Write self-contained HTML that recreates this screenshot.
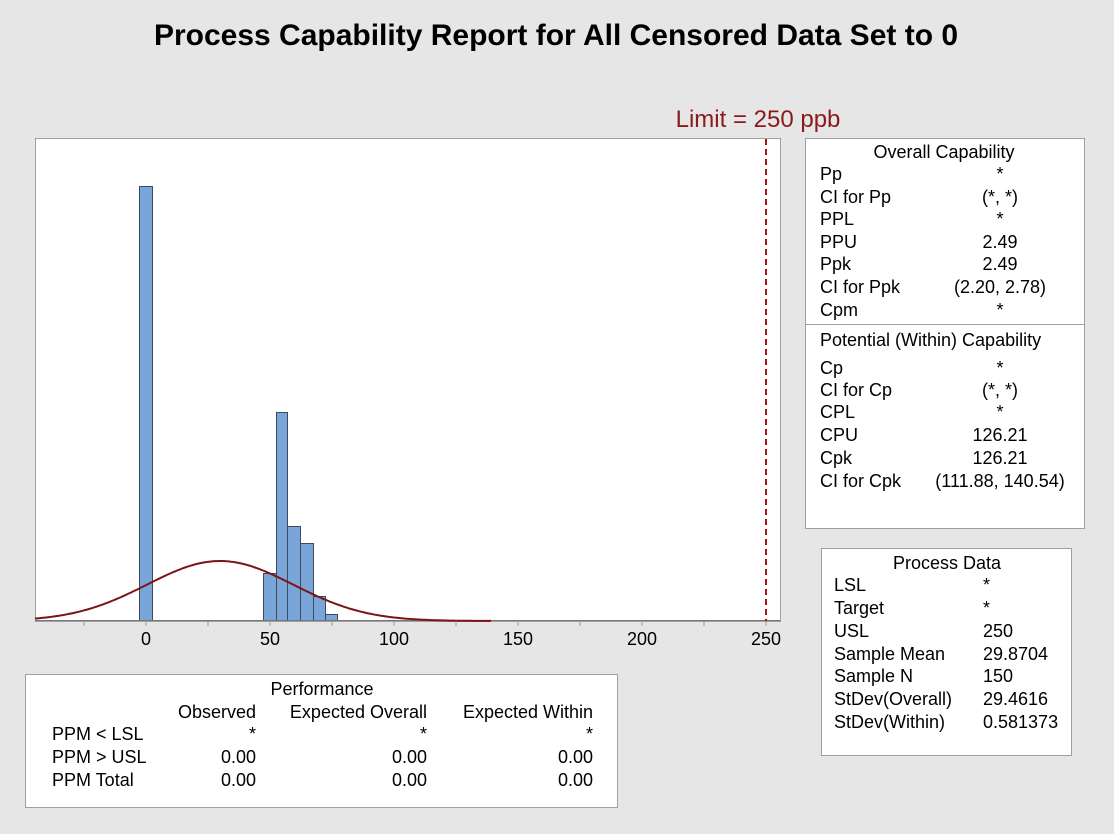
<!DOCTYPE html>
<html><head><meta charset="utf-8"><style>
html,body{margin:0;padding:0;background:#e6e6e6;}
svg{display:block;}
text{font-family:"Liberation Sans",sans-serif;font-size:18px;fill:#000;}
</style></head><body>
<svg width="1114" height="834" viewBox="0 0 1114 834" xmlns="http://www.w3.org/2000/svg">
<rect x="0" y="0" width="1114" height="834" fill="#e6e6e6"/>
<text x="556" y="45" text-anchor="middle" style="font-size:30px;font-weight:bold">Process Capability Report for All Censored Data Set to 0</text>
<text x="758" y="127" text-anchor="middle" style="font-size:24px;fill:#8b1a1a">Limit = 250 ppb</text>
<rect x="35.5" y="138.5" width="745" height="483" fill="#fff" stroke="#a0a0a0"/>
<g fill="#7aa5d8" stroke="#3d4a5c" stroke-width="1">
<rect x="139.5" y="186.5" width="13" height="434"/>
<rect x="263.5" y="573.5" width="13" height="47"/>
<rect x="276.5" y="412.5" width="11" height="208"/>
<rect x="287.5" y="526.5" width="13" height="94"/>
<rect x="300.5" y="543.5" width="13" height="77"/>
<rect x="313.5" y="596.5" width="12" height="24"/>
<rect x="325.5" y="614.5" width="12" height="6"/>
</g>
<line x1="35" y1="620.5" x2="780" y2="620.5" stroke="#777"/>
<path id="curve" d="" fill="none" stroke="#7b1515" stroke-width="2"/>
<line x1="766" y1="139" x2="766" y2="621" stroke="#a11" stroke-width="2" stroke-dasharray="6,4"/>
<g stroke="#999">
<line x1="84" y1="621" x2="84" y2="626"/><line x1="146" y1="621" x2="146" y2="626"/><line x1="208" y1="621" x2="208" y2="626"/><line x1="270" y1="621" x2="270" y2="626"/><line x1="332" y1="621" x2="332" y2="626"/><line x1="394" y1="621" x2="394" y2="626"/><line x1="456" y1="621" x2="456" y2="626"/><line x1="518" y1="621" x2="518" y2="626"/><line x1="580" y1="621" x2="580" y2="626"/><line x1="642" y1="621" x2="642" y2="626"/><line x1="704" y1="621" x2="704" y2="626"/><line x1="766" y1="621" x2="766" y2="626"/>
</g>
<g text-anchor="middle">
<text x="146" y="645">0</text><text x="270" y="645">50</text><text x="394" y="645">100</text><text x="518" y="645">150</text><text x="642" y="645">200</text><text x="766" y="645">250</text>
</g>
<rect x="805.5" y="138.5" width="279" height="390" fill="#fff" stroke="#a0a0a0"/>
<line x1="805" y1="324.5" x2="1084" y2="324.5" stroke="#a0a0a0"/>
<text x="944" y="158" text-anchor="middle">Overall Capability</text>
<g>
<text x="820" y="180">Pp</text><text x="820" y="203">CI for Pp</text><text x="820" y="225">PPL</text><text x="820" y="248">PPU</text><text x="820" y="270">Ppk</text><text x="820" y="293">CI for Ppk</text><text x="820" y="316">Cpm</text>
<text x="820" y="346">Potential (Within) Capability</text>
<text x="820" y="374">Cp</text><text x="820" y="396">CI for Cp</text><text x="820" y="418">CPL</text><text x="820" y="441">CPU</text><text x="820" y="464">Cpk</text><text x="820" y="487">CI for Cpk</text>
</g>
<g text-anchor="middle">
<text x="1000" y="180">*</text><text x="1000" y="203">(*, *)</text><text x="1000" y="225">*</text><text x="1000" y="248">2.49</text><text x="1000" y="270">2.49</text><text x="1000" y="293">(2.20, 2.78)</text><text x="1000" y="316">*</text>
<text x="1000" y="374">*</text><text x="1000" y="396">(*, *)</text><text x="1000" y="418">*</text><text x="1000" y="441">126.21</text><text x="1000" y="464">126.21</text><text x="1000" y="487">(111.88, 140.54)</text>
</g>
<rect x="821.5" y="548.5" width="250" height="207" fill="#fff" stroke="#a0a0a0"/>
<text x="947" y="569" text-anchor="middle">Process Data</text>
<text x="834" y="591">LSL</text><text x="834" y="614">Target</text><text x="834" y="637">USL</text><text x="834" y="660">Sample Mean</text><text x="834" y="682">Sample N</text><text x="834" y="705">StDev(Overall)</text><text x="834" y="728">StDev(Within)</text>
<text x="983" y="591">*</text><text x="983" y="614">*</text><text x="983" y="637">250</text><text x="983" y="660">29.8704</text><text x="983" y="682">150</text><text x="983" y="705">29.4616</text><text x="983" y="728">0.581373</text>
<rect x="25.5" y="674.5" width="592" height="133" fill="#fff" stroke="#a0a0a0"/>
<text x="322" y="695" text-anchor="middle">Performance</text>
<text x="256" y="718" text-anchor="end">Observed</text><text x="427" y="718" text-anchor="end">Expected Overall</text><text x="593" y="718" text-anchor="end">Expected Within</text>
<text x="52" y="740">PPM &lt; LSL</text><text x="52" y="763">PPM &gt; USL</text><text x="52" y="786">PPM Total</text>
<text x="256" y="740" text-anchor="end">*</text><text x="427" y="740" text-anchor="end">*</text><text x="593" y="740" text-anchor="end">*</text>
<text x="256" y="763" text-anchor="end">0.00</text><text x="427" y="763" text-anchor="end">0.00</text><text x="593" y="763" text-anchor="end">0.00</text>
<text x="256" y="786" text-anchor="end">0.00</text><text x="427" y="786" text-anchor="end">0.00</text><text x="593" y="786" text-anchor="end">0.00</text>
</svg>
<script>
(function(){var m=29.87,s=29.46,d="";
for(var px=35;px<=491;px+=2){var v=(px-146)/2.48;var y=621-60*Math.exp(-0.5*Math.pow((v-m)/s,2));d+=(d?"L":"M")+px+","+y.toFixed(1);}
document.getElementById("curve").setAttribute("d",d);})();
</script>
</body></html>
